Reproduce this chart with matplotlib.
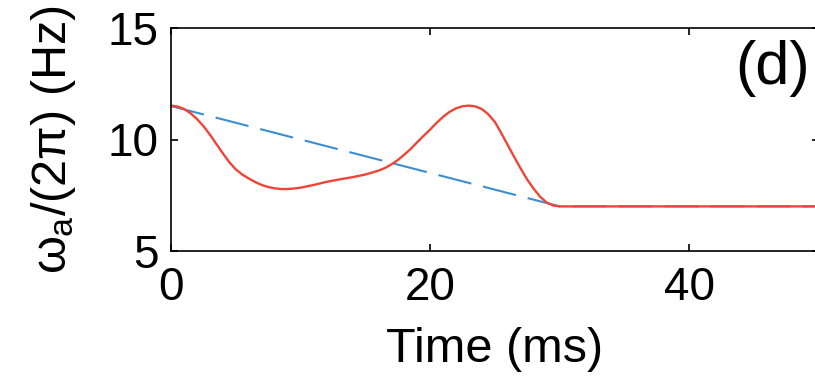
import matplotlib
matplotlib.use("Agg")
import matplotlib.pyplot as plt

# Actual frequency response (red) versus linear target ramp (blue dashed)
time_ms = [0, 0.5, 1, 1.5, 2, 2.5, 3, 3.5, 4, 4.5, 5, 5.5, 6, 6.5, 7, 7.5,
           8, 8.5, 9, 9.5, 10, 11, 12, 13, 14, 15, 16, 16.5, 17, 17.5, 18,
           18.5, 19, 19.5, 20, 20.5, 21, 21.5, 22, 22.5, 23, 23.5, 24, 24.5,
           25, 25.5, 26, 26.5, 27, 27.5, 28, 28.5, 29, 29.5, 30, 40, 50]
freq_actual = [11.52, 11.48, 11.37, 11.18, 10.92, 10.6, 10.22, 9.8, 9.38,
               8.98, 8.66, 8.43, 8.25, 8.09, 7.96, 7.87, 7.81, 7.78, 7.78,
               7.8, 7.84, 7.96, 8.1, 8.21, 8.31, 8.43, 8.6, 8.72, 8.88,
               9.08, 9.32, 9.58, 9.88, 10.17, 10.45, 10.75, 11.02, 11.24,
               11.4, 11.49, 11.52, 11.48, 11.36, 11.12, 10.78, 10.27,
               9.73, 9.2, 8.68, 8.19, 7.78, 7.42, 7.17, 7.04, 7.0, 7.0, 7.0]

time_target = [0, 30, 50]
freq_target = [11.5, 7.0, 7.0]

x_ticks = [0, 20, 40]
y_ticks = [5, 10, 15]

plt.rcParams["font.family"] = ["Liberation Sans", "DejaVu Sans"]
plt.rcParams["mathtext.fontset"] = "custom"
plt.rcParams["mathtext.rm"] = "Liberation Sans"
plt.rcParams["mathtext.it"] = "Liberation Sans"

fig = plt.figure(figsize=(8.15, 3.76), dpi=100)
ax = fig.add_axes([171 / 815, 125 / 376, 648 / 815, 223 / 376])

ax.plot(time_target, freq_target, color="#3a8ed2", lw=1.5,
        linestyle=(0, (16.3, 5.8)))
ax.plot(time_ms, freq_actual, color="#f04436", lw=1.7)

ax.set_xlim(0, 50)
ax.set_ylim(5, 15)
ax.set_xticks(x_ticks)
ax.set_yticks(y_ticks)
ax.tick_params(direction="in", length=5, width=1.2, labelsize=33,
               top=True, right=True)
ax.tick_params(axis="x", pad=11)
ax.tick_params(axis="y", pad=9)
for s in ax.spines.values():
    s.set_linewidth(1.2)

ax.set_xlabel("Time (ms)", fontsize=35, labelpad=12)
ax.set_ylabel(r"$\omega_a$/(2$\pi$) (Hz)", fontsize=35, labelpad=21)

ax.text(0.986, 0.82, "(d)", transform=ax.transAxes, ha="right",
        va="center", fontsize=44)

fig.savefig("out.png", dpi=100)
